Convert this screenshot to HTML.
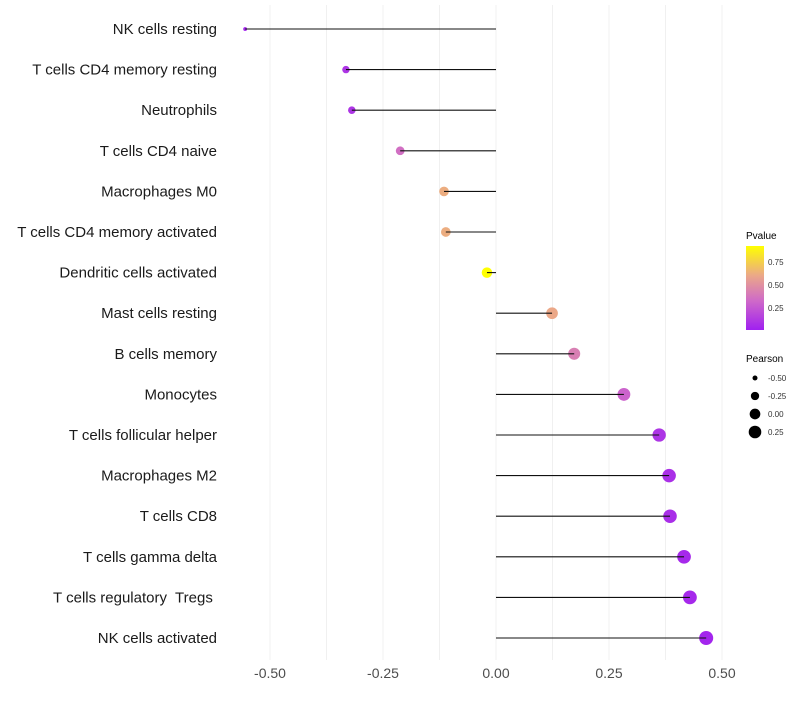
<!DOCTYPE html>
<html><head><meta charset="utf-8"><style>
body{margin:0;background:#fff}
text{font-family:"Liberation Sans",sans-serif;white-space:pre}
</style></head><body>
<svg id="chart" width="800" height="700" xmlns="http://www.w3.org/2000/svg">
<defs><linearGradient id="pg" x1="0" y1="1" x2="0" y2="0">
<stop offset="0" stop-color="#a020f0"/><stop offset="0.35" stop-color="#cf6ac8"/><stop offset="0.65" stop-color="#eba888"/><stop offset="1" stop-color="#ffff00"/></linearGradient></defs>
<g id="grid"></g><g id="marks"></g><g id="labels"></g><g id="ticks"></g>
<g>
<text x="746" y="239" font-size="10" fill="#000">Pvalue</text>
<rect x="746" y="246" width="18" height="84" fill="url(#pg)"/>
<text x="768" y="265" font-size="8" fill="#333">0.75</text>
<text x="768" y="288" font-size="8" fill="#333">0.50</text>
<text x="768" y="311" font-size="8" fill="#333">0.25</text>
</g>
<g id="sizeleg">
<text x="746" y="362" font-size="10" fill="#000">Pearson</text>
</g>
</svg>
<script>
const categories=["NK cells resting","T cells CD4 memory resting","Neutrophils","T cells CD4 naive","Macrophages M0","T cells CD4 memory activated","Dendritic cells activated","Mast cells resting","B cells memory","Monocytes","T cells follicular helper","Macrophages M2","T cells CD8","T cells gamma delta","T cells regulatory  Tregs ","NK cells activated"];
const pearson=[-0.555,-0.332,-0.319,-0.212,-0.115,-0.111,-0.02,0.124,0.173,0.283,0.361,0.383,0.385,0.416,0.429,0.465];
const pvalue=[0.03,0.1,0.1,0.35,0.62,0.62,0.92,0.6,0.42,0.3,0.1,0.08,0.07,0.05,0.05,0.03];
const xTicks=[-0.5,-0.25,0,0.25,0.5];
const xTickLabels=["-0.50","-0.25","0.00","0.25","0.50"];
const sizeLegend=[-0.5,-0.25,0,0.25];
const sizeLegendLabels=["-0.50","-0.25","0.00","0.25"];
const NS="http://www.w3.org/2000/svg";
const X=v=>496+v*452;
const Y=i=>29+i*40.6;
const R=v=>Math.sqrt(Math.max(1,28.5+44.6*v));
const stops=[[0,[160,32,240]],[0.35,[207,106,200]],[0.65,[235,168,136]],[1,[255,255,0]]];
function col(p){let t=(p-0.01)/0.91;t=Math.max(0,Math.min(1,t));
for(let k=1;k<stops.length;k++){if(t<=stops[k][0]){const a=stops[k-1],b=stops[k];const f=(t-a[0])/(b[0]-a[0]);
return 'rgb('+a[1].map((c,j)=>Math.round(c+(b[1][j]-c)*f)).join(',')+')';}}return 'rgb(255,255,0)';}
function mk(tag,attrs,parent){const e=document.createElementNS(NS,tag);for(const k in attrs)e.setAttribute(k,attrs[k]);document.getElementById(parent).appendChild(e);return e;}
for(let v=-0.5;v<=0.501;v+=0.125){const g=mk('line',{x1:X(v),x2:X(v),y1:5,y2:660,stroke:'#f0f0f0','stroke-width':1},'grid');

}
xTicks.forEach((v,i)=>{const t=mk('text',{x:X(v),y:678,'font-size':14,'text-anchor':'middle',fill:'#4d4d4d'},'ticks');t.textContent=xTickLabels[i];

});
categories.forEach((c,i)=>{
const t=mk('text',{x:217,y:Y(i)+5,'font-size':15,'text-anchor':'end',fill:'#1a1a1a'},'labels');t.textContent=c;


const d=mk('circle',{cx:X(pearson[i]),cy:Y(i),r:R(pearson[i]),fill:col(pvalue[i])},'marks');


const l=mk('line',{x1:X(0),x2:X(pearson[i]),y1:Y(i),y2:Y(i),stroke:'#111','stroke-width':1.1},'marks');


});
sizeLegend.forEach((v,i)=>{const y=378+i*18;
const c=mk('circle',{cx:755,cy:y,r:R(v),fill:'#000'},'sizeleg');


const t=mk('text',{x:768,y:y+3,'font-size':8,fill:'#333'},'sizeleg');t.textContent=sizeLegendLabels[i];

});
</script>
</body></html>
